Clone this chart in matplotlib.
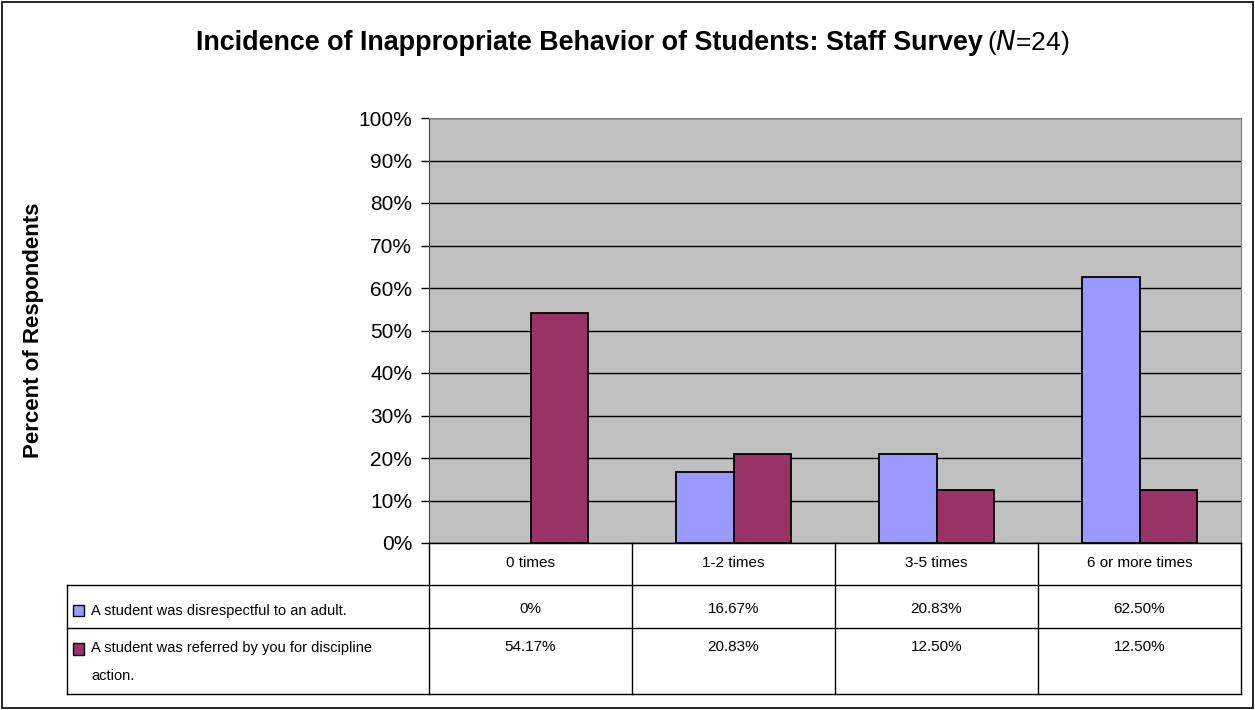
import matplotlib
matplotlib.use("Agg")
import matplotlib.pyplot as plt
from matplotlib.patches import Rectangle

plt.rcParams['font.family'] = ['Liberation Sans', 'DejaVu Sans']

categories = ['0 times', '1-2 times', '3-5 times', '6 or more times']
series_names = ['A student was disrespectful to an adult.',
                'A student was referred by you for discipline\naction.']
disrespectful = [0, 16.67, 20.83, 62.50]
referred = [54.17, 20.83, 12.50, 12.50]
colors = ['#9999FF', '#993366']

W, H = 1255, 710
fig = plt.figure(figsize=(W / 100, H / 100), dpi=100)

# plot area in pixels
px_l, px_r, px_t, px_b = 429, 1241, 118, 543
ax = fig.add_axes([px_l / W, 1 - px_b / H, (px_r - px_l) / W, (px_b - px_t) / H])
ax.set_facecolor('#C0C0C0')

x = range(len(categories))
bw = 0.285
# no outline for empty bars (excel draws nothing there)
edge1 = ['black' if v > 0 else 'none' for v in disrespectful]
edge2 = ['black' if v > 0 else 'none' for v in referred]
ax.bar([i - bw / 2 for i in x], disrespectful, bw, color=colors[0], edgecolor=edge1, linewidth=1.3, zorder=3)
ax.bar([i + bw / 2 for i in x], referred, bw, color=colors[1], edgecolor=edge2, linewidth=1.3, zorder=3)

ax.set_xlim(-0.5, len(categories) - 0.5)
ax.set_ylim(0, 100)
ax.set_yticks(range(0, 101, 10))
ax.set_yticklabels([f'{v}%' for v in range(0, 101, 10)], fontsize=15)
ax.yaxis.grid(True, color='black', linewidth=1)
ax.set_axisbelow(True)
ax.set_xticks([])
ax.tick_params(axis='y', length=6, width=1, pad=6)
for s in ['top', 'right']:
    ax.spines[s].set_color('#808080')
ax.spines['left'].set_color('#404040')
ax.spines['bottom'].set_color('black')

ax.set_ylabel('Percent of Respondents', fontsize=16, fontweight='bold', labelpad=0)
ax.yaxis.set_label_coords(-(px_l - 44) / (px_r - px_l), 0.5)

# overlay in pixel coordinates for table and frame
ov = fig.add_axes([0, 0, 1, 1], zorder=5)
ov.set_xlim(0, W)
ov.set_ylim(H, 0)
ov.axis('off')
ov.patch.set_alpha(0)

ov.add_patch(Rectangle((2, 2), W - 4, H - 4, fill=False, edgecolor='black', linewidth=1.2))

# title: bold part + normal "(N=24)"
ov.text(983, 50, 'Incidence of Inappropriate Behavior of Students: Staff Survey',
        fontsize=19.4, fontweight='bold', ha='right', va='baseline')
ov.text(987, 50, r'($\mathit{N}$=24)', fontsize=19, ha='left', va='baseline')

ncat = len(categories)
col_w = (px_r - px_l) / ncat
edges = [px_l + i * col_w for i in range(ncat + 1)]
t_left = 67
rows = [543, 585, 628, 694]

lw = 1
ov.plot([px_l, px_r], [rows[0], rows[0]], color='black', lw=lw)
for yy in rows[1:]:
    ov.plot([t_left, px_r], [yy, yy], color='black', lw=lw)
for xx in edges:
    ov.plot([xx, xx], [rows[0], rows[3]], color='black', lw=lw)
ov.plot([t_left, t_left], [rows[1], rows[3]], color='black', lw=lw)

for i, c in enumerate(categories):
    ov.text((edges[i] + edges[i + 1]) / 2, 563, c,
            fontsize=11, ha='center', va='center')

for i, v in enumerate(disrespectful):
    lab = '0%' if v == 0 else f'{v:.2f}%'
    ov.text((edges[i] + edges[i + 1]) / 2, 609, lab,
            fontsize=11, ha='center', va='center')
for i, v in enumerate(referred):
    lab = '0%' if v == 0 else f'{v:.2f}%'
    ov.text((edges[i] + edges[i + 1]) / 2, 647, lab,
            fontsize=11, ha='center', va='center')

# legend keys and labels
ov.add_patch(Rectangle((73, 605), 11, 11, facecolor=colors[0], edgecolor='black', lw=1))
ov.text(91, 611, series_names[0], fontsize=10.5, ha='left', va='center')
ov.add_patch(Rectangle((73, 643), 11, 12, facecolor=colors[1], edgecolor='black', lw=1))
ov.text(91, 662, series_names[1], fontsize=10.5, ha='left', va='center', linespacing=2.3)

fig.savefig('out.png', dpi=100)
